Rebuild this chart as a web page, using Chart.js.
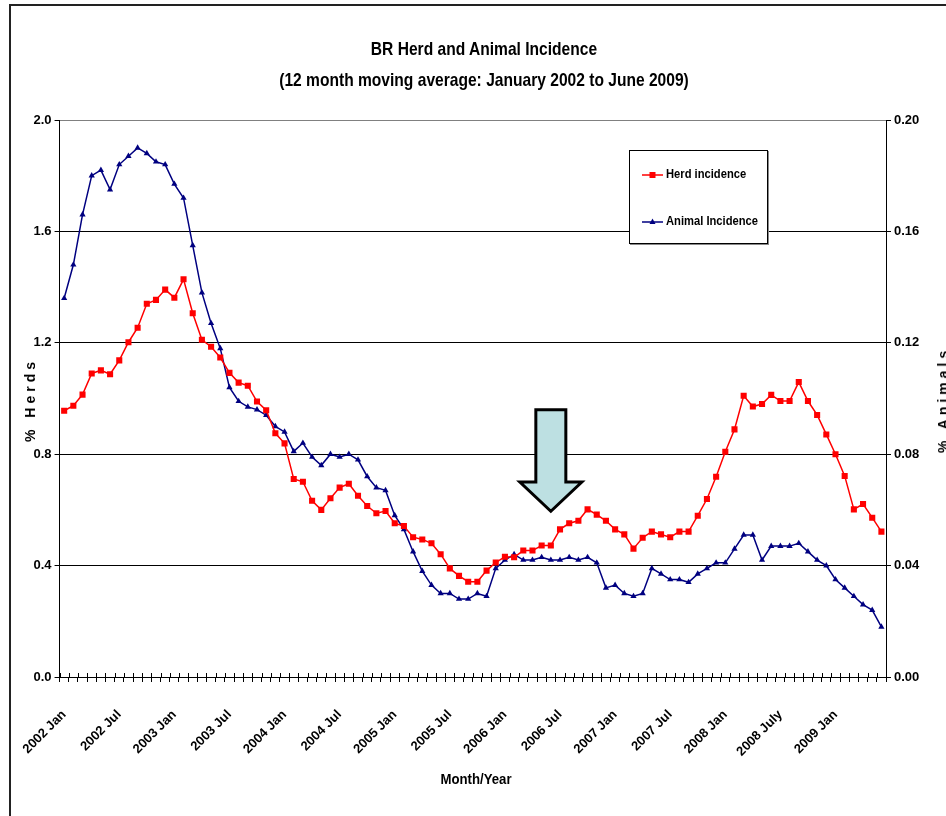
<!DOCTYPE html>
<html>
<head>
<meta charset="utf-8">
<title>BR Herd and Animal Incidence</title>
<script src="https://cdn.jsdelivr.net/npm/chart.js@4.4.1/dist/chart.umd.min.js"></script>
<style>
    body { margin: 0; background: #fff; overflow: hidden; }
    #wrap {
        position: relative; width: 946px; height: 816px; overflow: hidden;
        font-family: 'Liberation Sans Narrow', 'Arial Narrow', 'Liberation Sans', Arial, sans-serif;
        font-weight: bold; color: #000;
    }
    #frame { position: absolute; left: 9px; top: 4px; width: 1200px; height: 1200px; border: 2px solid #222; }
    #chartCanvas { position: absolute; left: 0; top: 0; }
    .title {
        position: absolute; left: 0; width: 968px; text-align: center; font-size: 19px; line-height: 22px;
        transform: scaleX(0.82); transform-origin: 484px 0;
    }
    .axisTitle { position: absolute; font-size: 15px; white-space: nowrap; transform: translate(-50%, -50%) scaleX(0.88); }
    .vertical { transform: translate(-50%, -50%) rotate(-90deg); letter-spacing: 4px; font-size: 14px; }
    #legend {
        position: absolute; left: 629px; top: 150px; width: 137px; height: 92px;
        border: 1px solid #000; background: #fff; box-shadow: 1px 1px 0 #888;
    }
    .legendItem { position: absolute; left: 12px; font-size: 13px; line-height: 16px; white-space: nowrap; }
    .legendItem canvas { vertical-align: middle; margin-right: 3px; }
    .legendItem span { display: inline-block; transform: scaleX(0.86); transform-origin: 0 50%; }
</style>
</head>
<body>
<div id="wrap">
    <div id="frame"></div>
    <canvas id="chartCanvas" width="946" height="816"></canvas>
    <div class="title" style="top:38px">BR Herd and Animal Incidence</div>
    <div class="title" style="top:69px">(12 month moving average: January 2002 to June 2009)</div>
    <div class="axisTitle vertical" style="left:30px; top:400px">% Herds</div>
    <div class="axisTitle vertical" style="left:943px; top:400px">% Animals</div>
    <div class="axisTitle" style="left:476px; top:778px">Month/Year</div>
    <div id="legend"></div>
</div>
<script>
// months Jan 2002 .. Jun 2009
const years = [2002, 2003, 2004, 2005, 2006, 2007, 2008, 2009];
const monthNames = ['Jan', 'Feb', 'Mar', 'Apr', 'May', 'Jun', 'Jul', 'Aug', 'Sep', 'Oct', 'Nov', 'Dec'];
const months = [];
years.forEach(y => monthNames.forEach((m, i) => {
    if (y < 2009 || i < 6) months.push(y + ' ' + m);
}));

const tickLabels = ['2002 Jan', '2002 Jul', '2003 Jan', '2003 Jul', '2004 Jan', '2004 Jul', '2005 Jan', '2005 Jul',
    '2006 Jan', '2006 Jul', '2007 Jan', '2007 Jul', '2008 Jan', '2008 July', '2009 Jan'];

// % herds (left axis)
const herdIncidence = [
    0.956, 0.974, 1.014, 1.090, 1.101, 1.087, 1.137, 1.202, 1.254, 1.340, 1.354, 1.391,
    1.362, 1.428, 1.306, 1.211, 1.186, 1.147, 1.092, 1.057, 1.046, 0.989, 0.958, 0.875,
    0.839, 0.711, 0.701, 0.633, 0.600, 0.642, 0.680, 0.694, 0.651, 0.614, 0.588, 0.596,
    0.552, 0.542, 0.502, 0.494, 0.480, 0.441, 0.390, 0.363, 0.342, 0.342, 0.382, 0.411,
    0.432, 0.430, 0.454, 0.454, 0.472, 0.472, 0.530, 0.552, 0.561, 0.602, 0.583, 0.561,
    0.530, 0.512, 0.461, 0.500, 0.522, 0.512, 0.502, 0.522, 0.522, 0.579, 0.639, 0.719,
    0.809, 0.889, 1.010, 0.971, 0.980, 1.013, 0.991, 0.991, 1.059, 0.991, 0.941, 0.871,
    0.800, 0.722, 0.602, 0.621, 0.572, 0.522
];

// % animals (right axis)
const animalIncidence = [
    0.136, 0.148, 0.166, 0.180, 0.182, 0.175, 0.184, 0.187, 0.190, 0.188, 0.185, 0.184,
    0.177, 0.172, 0.155, 0.138, 0.127, 0.118, 0.104, 0.099, 0.097, 0.096, 0.094, 0.090,
    0.088, 0.081, 0.084, 0.079, 0.076, 0.080, 0.079, 0.080, 0.078, 0.072, 0.068, 0.067,
    0.058, 0.053, 0.045, 0.038, 0.033, 0.030, 0.030, 0.028, 0.028, 0.030, 0.029, 0.039,
    0.042, 0.044, 0.042, 0.042, 0.043, 0.042, 0.042, 0.043, 0.042, 0.043, 0.041, 0.032,
    0.033, 0.030, 0.029, 0.030, 0.039, 0.037, 0.035, 0.035, 0.034, 0.037, 0.039, 0.041,
    0.041, 0.046, 0.051, 0.051, 0.042, 0.047, 0.047, 0.047, 0.048, 0.045, 0.042, 0.040,
    0.035, 0.032, 0.029, 0.026, 0.024, 0.018
];

// the big arrow pointing at mid 2006 (category index, herd-axis values)
const arrowNote = { index: 53, top: 0.96, neck: 0.70, tip: 0.595, shaft: 15, head: 31 };

const FONT = "'Liberation Sans Narrow', 'Arial Narrow', 'Liberation Sans', Arial, sans-serif";

const extrasPlugin = {
    id: 'extras',
    afterDatasetsDraw(chart) {
        const xs = chart.scales.x, ys = chart.scales.y;
        const ctx = chart.ctx;
        const cx = xs.getPixelForValue(arrowNote.index);
        const top = ys.getPixelForValue(arrowNote.top);
        const neck = ys.getPixelForValue(arrowNote.neck);
        const tip = ys.getPixelForValue(arrowNote.tip);
        ctx.save();
        ctx.beginPath();
        ctx.moveTo(cx - arrowNote.shaft, top);
        ctx.lineTo(cx + arrowNote.shaft, top);
        ctx.lineTo(cx + arrowNote.shaft, neck);
        ctx.lineTo(cx + arrowNote.head, neck);
        ctx.lineTo(cx, tip);
        ctx.lineTo(cx - arrowNote.head, neck);
        ctx.lineTo(cx - arrowNote.shaft, neck);
        ctx.closePath();
        ctx.fillStyle = '#bde0e2';
        ctx.fill();
        ctx.lineWidth = 3;
        ctx.lineJoin = 'miter';
        ctx.strokeStyle = '#000';
        ctx.stroke();
        ctx.restore();
    },
    afterDraw(chart) {
        // x-axis tick marks cross the axis line (upper half)
        const xs = chart.scales.x;
        const ctx = chart.ctx;
        const n = chart.data.labels.length;
        ctx.save();
        ctx.strokeStyle = '#000';
        ctx.lineWidth = 1;
        ctx.beginPath();
        for (let k = 0; k <= n; k++) {
            const x = Math.round(xs.left + k * xs.width / n) + 0.5;
            ctx.moveTo(x, xs.top - 4);
            ctx.lineTo(x, xs.top);
        }
        ctx.stroke();
        ctx.restore();
    }
};

const ctx = document.getElementById('chartCanvas').getContext('2d');
const chartInstance = new Chart(ctx, {
    type: 'line',
    data: {
        labels: months,
        datasets: [
            {
                label: 'Herd incidence',
                data: herdIncidence,
                yAxisID: 'y',
                borderColor: '#ff0000',
                backgroundColor: '#ff0000',
                borderWidth: 1.5,
                pointStyle: 'rect',
                pointRadius: 4.3,
                pointBorderWidth: 0,
                tension: 0
            },
            {
                label: 'Animal Incidence',
                data: animalIncidence,
                yAxisID: 'y1',
                borderColor: '#000080',
                backgroundColor: '#000080',
                borderWidth: 1.5,
                pointStyle: 'triangle',
                pointRadius: 3.6,
                pointBorderWidth: 0,
                tension: 0
            }
        ]
    },
    options: {
        responsive: false,
        animation: false,
        layout: { padding: { top: 120, left: 0, right: 0, bottom: 0 } },
        plugins: {
            legend: { display: false },
            title: { display: false },
            tooltip: { enabled: false }
        },
        scales: {
            x: {
                offset: true,
                afterFit: scale => { scale.height = 139; },
                grid: { display: true, offset: true, drawOnChartArea: false, drawTicks: true, tickLength: 5, color: '#000' },
                border: { color: '#000', width: 1 },
                ticks: {
                    autoSkip: false,
                    minRotation: 45,
                    maxRotation: 45,
                    padding: 25,
                    color: '#000',
                    font: { family: FONT, size: 13, weight: 'bold' },
                    callback: (val, i) => (i % 6 === 0 ? tickLabels[i / 6] : '')
                }
            },
            y: {
                position: 'left',
                min: 0,
                max: 2,
                afterFit: scale => { scale.width = 58; },
                grid: {
                    color: c => (c.tick && c.tick.value === 2 ? '#808080' : '#000'),
                    tickColor: '#000',
                    tickLength: 5,
                    lineWidth: 1
                },
                border: { color: '#000', width: 1 },
                ticks: {
                    stepSize: 0.4,
                    padding: 3,
                    color: '#000',
                    font: { family: FONT, size: 13, weight: 'bold' },
                    callback: v => v.toFixed(1)
                }
            },
            y1: {
                position: 'right',
                min: 0,
                max: 0.2,
                afterFit: scale => { scale.width = 60; },
                grid: { drawOnChartArea: false, tickColor: '#000', tickLength: 5 },
                border: { color: '#000', width: 1 },
                ticks: {
                    stepSize: 0.04,
                    padding: 3,
                    color: '#000',
                    font: { family: FONT, size: 13, weight: 'bold' },
                    callback: v => v.toFixed(2)
                }
            }
        }
    },
    plugins: [extrasPlugin]
});

// legend box inside the plot, built from the datasets
const legendEl = document.getElementById('legend');
const legendTops = [15, 62];
chartInstance.data.datasets.forEach((ds, i) => {
    const item = document.createElement('div');
    item.className = 'legendItem';
    item.style.top = legendTops[i] + 'px';
    const sw = document.createElement('canvas');
    sw.width = 21; sw.height = 10;
    const g = sw.getContext('2d');
    g.strokeStyle = ds.borderColor;
    g.fillStyle = ds.backgroundColor;
    g.lineWidth = 1.5;
    g.beginPath(); g.moveTo(0, 5); g.lineTo(21, 5); g.stroke();
    g.beginPath();
    if (ds.pointStyle === 'rect') {
        g.rect(7.5, 2, 6, 6);
    } else {
        g.moveTo(10.5, 1.5); g.lineTo(13.5, 7); g.lineTo(7.5, 7); g.closePath();
    }
    g.fill();
    item.appendChild(sw);
    const txt = document.createElement('span');
    txt.textContent = ds.label;
    item.appendChild(txt);
    legendEl.appendChild(item);
});
</script>
</body>
</html>
